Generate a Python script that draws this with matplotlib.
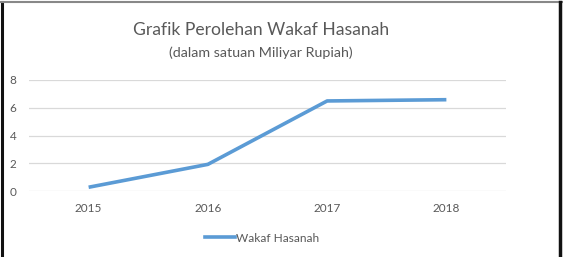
import matplotlib
matplotlib.use("Agg")
import matplotlib.pyplot as plt
from matplotlib.lines import Line2D

plt.rcParams["font.family"] = ["Lato", "DejaVu Sans"]

# data
years = ["2015", "2016", "2017", "2018"]
wakaf = [0.27, 1.92, 6.49, 6.58]
y_ticks = [0, 2, 4, 6, 8]

text_grey = "#595959"
line_blue = "#5B9BD5"

fig = plt.figure(figsize=(5.63, 2.57), dpi=100)
ax = fig.add_axes([29 / 563, 1 - 191 / 257, (506 - 29) / 563, 111 / 257])

x = range(len(years))
ax.plot(x, wakaf, color=line_blue, lw=2.6, solid_capstyle="butt", label="Wakaf Hasanah", zorder=3)

ax.set_xlim(-0.5, len(years) - 0.5)
ax.set_ylim(0, 8)
ax.set_xticks(list(x))
ax.set_xticklabels(years)
ax.set_yticks(y_ticks)
ax.grid(axis="y", color="#D9D9D9", lw=0.9)
ax.set_axisbelow(True)
for s in ax.spines.values():
    s.set_visible(False)
ax.tick_params(length=0, labelsize=8.5, labelcolor=text_grey)
ax.tick_params(axis="x", pad=9)
ax.tick_params(axis="y", pad=9)

fig.text(0.463, 1 - 30 / 257, "Grafik Perolehan Wakaf Hasanah", ha="center", va="center",
         fontsize=12.6, color=text_grey)
fig.text(0.463, 1 - 53 / 257, "(dalam satuan Miliyar Rupiah)", ha="center", va="center",
         fontsize=10.3, color=text_grey)

fig.legend(handles=[Line2D([], [], color=line_blue, lw=2.6)], labels=["Wakaf Hasanah"],
           loc="center", bbox_to_anchor=(0.465, 1 - 238 / 257), frameon=False,
           fontsize=8.6, labelcolor=text_grey, handlelength=2.5, handletextpad=0.1)

# outer frame (left, top, right)
fig.add_artist(Line2D([1.5 / 563, 1.5 / 563], [0, 1 - 2 / 257], color="#111111", lw=2.2))
fig.add_artist(Line2D([0, 1], [1 - 1.5 / 257, 1 - 1.5 / 257], color="#888888", lw=1.5))
fig.add_artist(Line2D([560 / 563, 560 / 563], [0, 1 - 2 / 257], color="#111111", lw=2.5))

fig.savefig("out.png", dpi=100)
